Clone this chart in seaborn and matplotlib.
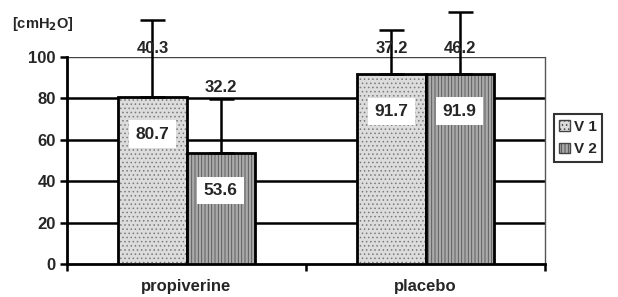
import matplotlib
matplotlib.use('Agg')

import matplotlib.pyplot as plt
import numpy as np
import pandas as pd
import seaborn as sns

# values
groups = ["propiverine", "placebo"]
visits = ["V 1", "V 2"]
means = [[80.7, 53.6], [91.7, 91.9]]          # per group: V1, V2
sd_text = [[40.3, 32.2], [37.2, 46.2]]        # numbers printed above the bars
err_drawn = [[37.2, 25.9], [21.3, 29.8]]      # error bar length as drawn
y_ticks = [0, 20, 40, 60, 80, 100]

sns.set_theme(style="white")
plt.rcParams['font.family'] = ['Liberation Sans', 'DejaVu Sans']
plt.rcParams['font.weight'] = 'bold'
plt.rcParams['mathtext.default'] = 'bf'
plt.rcParams['hatch.linewidth'] = 0.6

df = pd.DataFrame({
    "group": np.repeat(groups, len(visits)),
    "visit": visits * len(groups),
    "value": np.ravel(means),
})

fig = plt.figure(figsize=(6.18, 2.97), dpi=100)
ax = fig.add_axes([67 / 618, 33 / 297, 478 / 618, 207 / 297])

palette = {"V 1": "#dcdcdc", "V 2": "#a9a9a9"}
sns.barplot(data=df, x="group", y="value", hue="visit", order=groups,
            hue_order=visits, palette=palette, width=0.57, saturation=1,
            edgecolor="black", linewidth=2, errorbar=None, ax=ax, zorder=3)

bar_conts = list(ax.containers)
hatches = {"V 1": "....", "V 2": "|||||"}
for cont, visit in zip(bar_conts, visits):
    for bar in cont:
        bar.set_hatch(hatches[visit])
        bar._hatch_color = matplotlib.colors.to_rgba("#7a7a7a" if visit == "V 1" else "#555555")

# error bars, value boxes and SD labels
for j, cont in enumerate(bar_conts):
    for i, bar in enumerate(cont):
        xc = bar.get_x() + bar.get_width() / 2
        m = means[i][j]
        ax.errorbar(xc, m, yerr=[[0], [err_drawn[i][j]]], fmt='none',
                    ecolor='black', elinewidth=1.8, capsize=9, capthick=1.8,
                    clip_on=False, zorder=4)
        ax.text(xc, m - 18, f"{m:.1f}", ha='center', va='center', fontsize=12.5,
                fontweight='bold', zorder=6,
                bbox=dict(facecolor='white', edgecolor='none', pad=4.5))
        ax.text(xc, min(m + 31.5, 104), f"{sd_text[i][j]:.1f}", ha='center',
                va='center', fontsize=12, fontweight='bold', zorder=5)

ax.set_ylim(0, 100)
ax.set_xlim(-0.5, 1.5)
ax.set_yticks(y_ticks)
ax.set_yticklabels([str(t) for t in y_ticks], fontsize=12, fontweight='bold')
for t in y_ticks[1:-1]:
    ax.axhline(t, color='black', lw=1.8, zorder=1)
ax.axhline(100, color='#444444', lw=1.0, zorder=1)

# category boundaries as ticks, labels in between
ax.set_xticks([-0.5, 0.5, 1.5], minor=False)
ax.set_xticklabels([])
ax.set_xticks([0, 1], minor=True)
ax.set_xticklabels(groups, minor=True, fontsize=12, fontweight='bold')
ax.tick_params(axis='x', which='major', direction='out', length=5, width=1.8,
               color='black', bottom=True)
ax.tick_params(axis='x', which='minor', length=0, pad=11)
ax.tick_params(axis='y', direction='out', length=5, width=1.8, color='black',
               left=True, pad=3)
ax.set_xlabel("")
ax.set_ylabel("")

for side in ['left', 'bottom']:
    ax.spines[side].set_color('black')
    ax.spines[side].set_linewidth(2)
ax.spines['top'].set_visible(False)
ax.spines['right'].set_color('#555555')
ax.spines['right'].set_linestyle((0, (2, 1)))
ax.spines['right'].set_linewidth(1)

fig.text(12 / 618, 1 - 24 / 297, "[cmH$_2$O]", fontsize=10.5, fontweight='bold',
         ha='left', va='center')

ax.get_legend().remove()
handles = [matplotlib.patches.Patch(facecolor=palette[v], edgecolor='#444444',
                                    hatch=hatches[v], label=v) for v in visits]
leg = fig.legend(handles=handles, loc='center left',
                 bbox_to_anchor=(551 / 618, 1 - 138 / 297), frameon=True,
                 fancybox=False, edgecolor='black', handlelength=0.7,
                 handleheight=0.7, handletextpad=0.25, borderpad=0.35,
                 borderaxespad=0.2, labelspacing=0.55,
                 prop={'weight': 'bold', 'size': 11})
leg.get_frame().set_linewidth(1.5)

fig.savefig("out.png", dpi=100)
plt.close('all')
